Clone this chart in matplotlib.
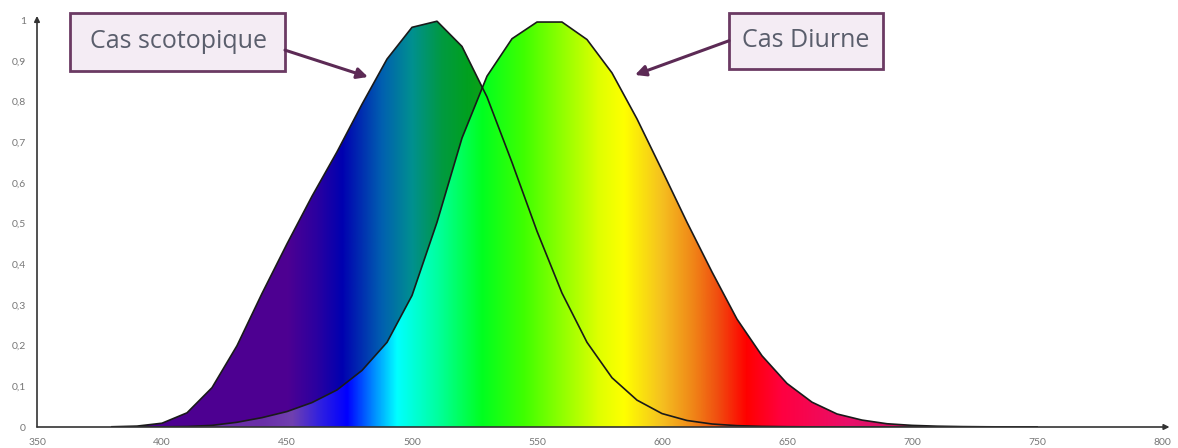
import numpy as np
import matplotlib
matplotlib.use("Agg")
import matplotlib.pyplot as plt
from matplotlib.patches import Polygon, Rectangle
from matplotlib.colors import LinearSegmentedColormap

# ---- data ----
wavelengths = [380, 390, 400, 410, 420, 430, 440, 450, 460, 470, 480, 490, 500,
               510, 520, 530, 540, 550, 560, 570, 580, 590, 600, 610, 620, 630,
               640, 650, 660, 670, 680, 690, 700, 710, 720, 730, 740, 750]
photopic = [0.0000, 0.0001, 0.0004, 0.0012, 0.004, 0.0116, 0.023, 0.038, 0.060,
            0.091, 0.139, 0.208, 0.323, 0.503, 0.710, 0.862, 0.954, 0.995, 0.995,
            0.952, 0.870, 0.757, 0.631, 0.503, 0.381, 0.265, 0.175, 0.107, 0.061,
            0.032, 0.017, 0.008, 0.004, 0.002, 0.001, 0.0005, 0.0002, 0.0001]
scotopic = [0.0006, 0.0022, 0.0093, 0.0348, 0.0966, 0.1998, 0.3281, 0.450, 0.567,
            0.676, 0.793, 0.904, 0.982, 0.997, 0.935, 0.811, 0.650, 0.481, 0.329,
            0.208, 0.121, 0.066, 0.033, 0.016, 0.0074, 0.0033, 0.0015, 0.0007,
            0.0003, 0.0001, 0.0001, 0.0, 0.0, 0.0, 0.0, 0.0, 0.0, 0.0]
x_ticks = [350, 400, 450, 500, 550, 600, 650, 700, 750, 800]
y_ticks = [0, 0.1, 0.2, 0.3, 0.4, 0.5, 0.6, 0.7, 0.8, 0.9, 1]
label_scot = "Cas scotopique"
label_diur = "Cas Diurne"

# ---- colour stops for the spectrum fills ----
bright_stops = [(350, "#6a2fa8"), (440, "#6a2fa8"), (452, "#7040b0"), (463, "#3020e0"),
                (474, "#0000ff"), (485, "#0090ff"), (494, "#00ffff"), (510, "#00ffa0"),
                (528, "#00ff20"), (545, "#40ff00"), (560, "#90ff00"), (575, "#e0ff00"),
                (585, "#ffff00"), (600, "#f5c020"), (612, "#f08818"), (622, "#f05010"),
                (634, "#ff0000"), (648, "#ff0040"), (675, "#e8106a"), (700, "#c81060"),
                (800, "#c81060")]
dark_stops = [(350, "#4c0090"), (450, "#4e0092"), (462, "#2a00a0"), (472, "#0000b0"),
              (488, "#0060b0"), (500, "#009090"), (512, "#009a40"), (522, "#00a020"),
              (545, "#30a000"), (800, "#30a000")]

def make_cmap(stops, name):
    lo, hi = 350.0, 800.0
    return LinearSegmentedColormap.from_list(
        name, [((w - lo) / (hi - lo), c) for w, c in stops], N=2048)

W, H = 1178, 448
fig = plt.figure(figsize=(W / 100, H / 100), dpi=100)
ax = fig.add_axes([37 / W, 21 / H, (1162 - 37) / W, (427 - 20) / H])
ax.set_xlim(350, 800)
ax.set_ylim(0, 1)

grad = np.linspace(350, 800, 1800)[None, :]

wl = np.array(wavelengths, float)
for vals, stops, z in [(scotopic, dark_stops, 1), (photopic, bright_stops, 2)]:
    v = np.array(vals, float)
    verts = np.column_stack([np.r_[wl[0], wl, wl[-1]], np.r_[0, v, 0]])
    poly = Polygon(verts, closed=True, transform=ax.transData, facecolor="none",
                   edgecolor="none")
    ax.add_patch(poly)
    im = ax.imshow(grad, extent=[350, 800, 0, 1], aspect="auto",
                   cmap=make_cmap(stops, "c%d" % z), vmin=350, vmax=800,
                   interpolation="bilinear", zorder=z)
    im.set_clip_path(poly)

ax.plot(wavelengths, scotopic, color="#1a1a1a", lw=1.2, zorder=4,
        solid_joinstyle="round")
ax.plot(wavelengths, photopic, color="#1a1a1a", lw=1.2, zorder=4,
        solid_joinstyle="round")

# axes styling
for s in ["top", "right", "left", "bottom"]:
    ax.spines[s].set_visible(False)
ax.annotate("", xy=(803, 0), xytext=(350, 0), xycoords="data",
            arrowprops=dict(arrowstyle="-|>", color="#333333", lw=1.2,
                            mutation_scale=8, shrinkA=0, shrinkB=0),
            annotation_clip=False, zorder=5)
ax.annotate("", xy=(350, 1.01), xytext=(350, 0), xycoords="data",
            arrowprops=dict(arrowstyle="-|>", color="#333333", lw=1.2,
                            mutation_scale=8, shrinkA=0, shrinkB=0),
            annotation_clip=False, zorder=5)

ax.set_xticks(x_ticks)
ax.set_xticklabels([str(t) for t in x_ticks])
ax.set_yticks(y_ticks)
ax.set_yticklabels([("%g" % t).replace(".", ",") for t in y_ticks])
ax.tick_params(length=0, labelsize=7.5, labelcolor="#777777", pad=8)
for lab in ax.get_xticklabels() + ax.get_yticklabels():
    lab.set_family("Lato")

# annotation boxes
box_kw = dict(facecolor="#f4ecf4", edgecolor="#6b3a63", lw=2, zorder=6,
              clip_on=False, transform=ax.transData)
ax.add_patch(Rectangle((363.2, 0.875), 449.2 - 363.2, 1.017 - 0.875, **box_kw))
ax.add_patch(Rectangle((626.8, 0.880), 688.4 - 626.8, 1.017 - 0.880, **box_kw))
ax.text(406.4, 0.946, label_scot, fontsize=18, family="Open Sans",
        color="#5a5e6c", ha="center", va="center", zorder=7, clip_on=False)
ax.text(657.6, 0.949, label_diur, fontsize=18, family="Open Sans",
        color="#5a5e6c", ha="center", va="center", zorder=7, clip_on=False)

arrow = dict(arrowstyle="-|>", color="#5c2a55", lw=2.2, mutation_scale=16,
             shrinkA=0, shrinkB=0)
ax.annotate("", xy=(482.4, 0.860), xytext=(449.2, 0.926), arrowprops=arrow,
            annotation_clip=False, zorder=6)
ax.annotate("", xy=(589.2, 0.865), xytext=(626.8, 0.949), arrowprops=arrow,
            annotation_clip=False, zorder=6)

fig.savefig("out.png", dpi=100)
